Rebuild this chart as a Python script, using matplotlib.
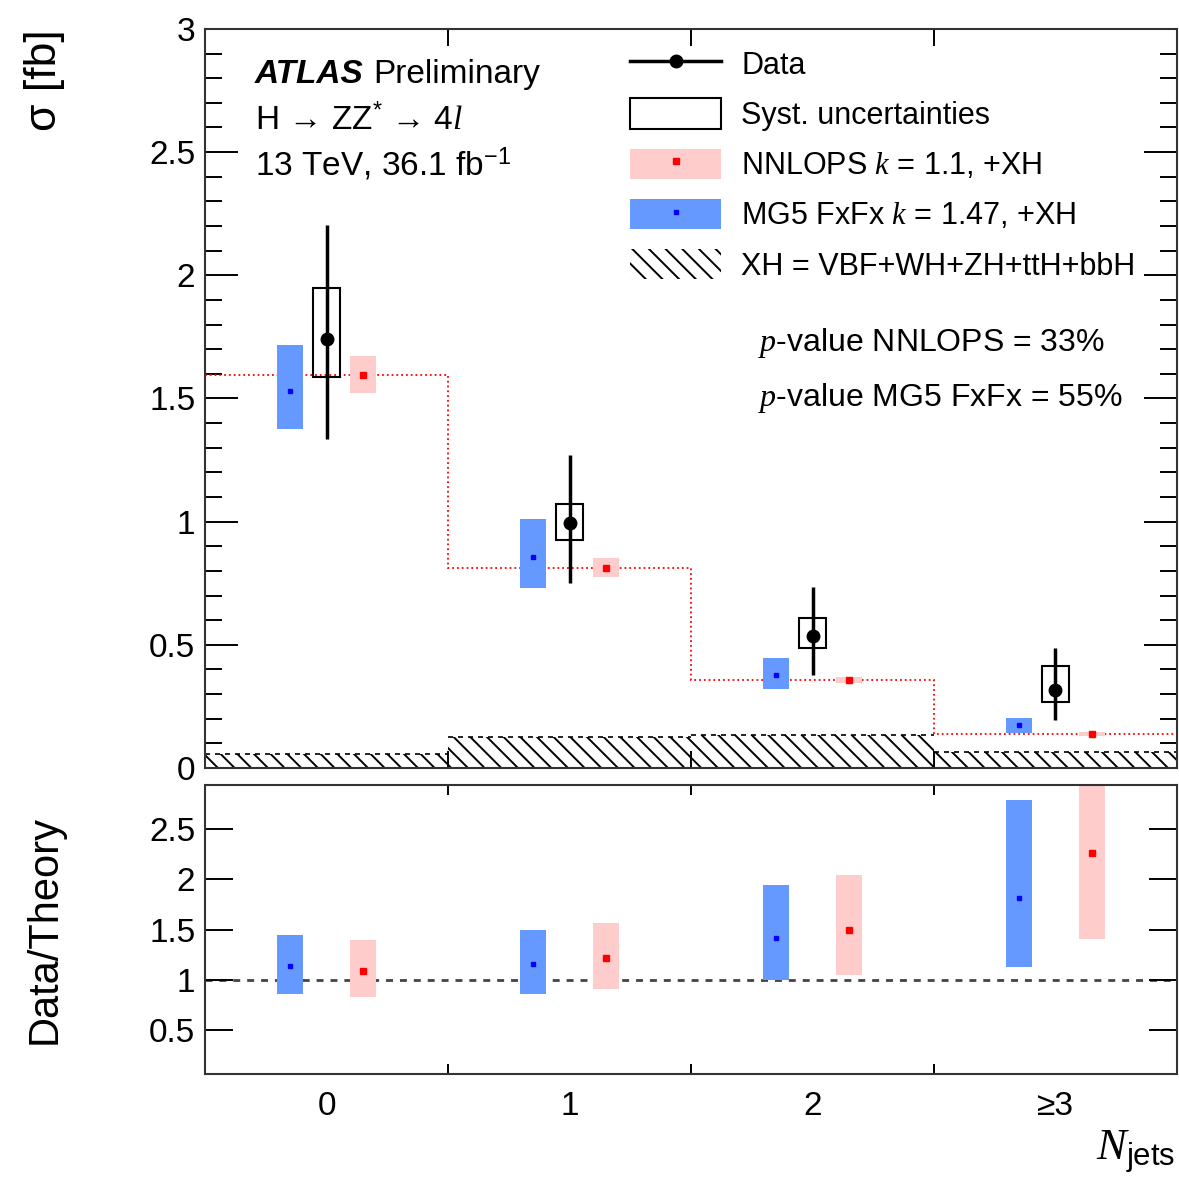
import numpy as np
import matplotlib
matplotlib.use("Agg")
import matplotlib.pyplot as plt
from matplotlib.patches import Patch
from matplotlib.lines import Line2D
from matplotlib.legend_handler import HandlerTuple
from matplotlib.ticker import MultipleLocator, FuncFormatter

plt.rcParams['font.family'] = ['Liberation Sans', 'DejaVu Sans']
plt.rcParams['mathtext.fontset'] = 'custom'
plt.rcParams['mathtext.rm'] = 'Liberation Sans'
plt.rcParams['mathtext.it'] = 'Liberation Serif:italic'
plt.rcParams['hatch.linewidth'] = 1.4
plt.rcParams['hatch.color'] = 'black'

# bins of N_jets
bins = ['0', '1', '2', '≥3']
centers = np.arange(len(bins))
edges = np.arange(len(bins) + 1) - 0.5

# measured cross sections [fb]
data = np.array([1.742, 0.993, 0.536, 0.315])
data_hi = np.array([2.205, 1.271, 0.733, 0.485])
data_lo = np.array([1.335, 0.752, 0.376, 0.196])
syst_hi = np.array([1.948, 1.072, 0.607, 0.413])
syst_lo = np.array([1.589, 0.925, 0.487, 0.268])

# predictions
nnlops = np.array([1.597, 0.813, 0.358, 0.137])
nnlops_hi = np.array([1.673, 0.851, 0.370, 0.145])
nnlops_lo = np.array([1.524, 0.776, 0.346, 0.129])
mg5 = np.array([1.532, 0.857, 0.376, 0.173])
mg5_hi = np.array([1.715, 1.011, 0.448, 0.204])
mg5_lo = np.array([1.376, 0.729, 0.322, 0.143])
xh = np.array([0.057, 0.124, 0.132, 0.064])

# data / theory
r_mg5 = np.array([1.133, 1.160, 1.417, 1.810])
r_mg5_hi = np.array([1.443, 1.493, 1.943, 2.793])
r_mg5_lo = np.array([0.860, 0.860, 0.993, 1.127])
r_nnlops = np.array([1.090, 1.217, 1.493, 2.267])
r_nnlops_hi = np.array([1.393, 1.567, 2.043, 3.100])
r_nnlops_lo = np.array([0.826, 0.910, 1.043, 1.410])

BLUE = '#6699ff'
PINK = '#ffcccc'
off = 0.15
w = 0.11

fig = plt.figure(figsize=(11.79, 11.80), dpi=100)
ax = fig.add_axes([0.1739, 0.3492, 0.8244, 0.6263])
ax2 = fig.add_axes([0.1739, 0.0898, 0.8244, 0.2449])

# ---- top panel ----
ax.bar(centers, xh, width=1.0, facecolor='white', edgecolor='black', linewidth=0,
       hatch='\\\\', zorder=1)
ax.hlines(xh, edges[:-1], edges[1:], colors='black', linestyles=(0, (3, 3)), lw=1.2, zorder=2)
ax.stairs(nnlops, edges, color='red', linestyle=':', lw=1.3, baseline=None, zorder=2)

ax.bar(centers - off, mg5_hi - mg5_lo, bottom=mg5_lo, width=w, color=BLUE, zorder=3)
ax.plot(centers - off, mg5, 's', color='blue', ms=2.5, zorder=4)
ax.bar(centers + off, nnlops_hi - nnlops_lo, bottom=nnlops_lo, width=w, color=PINK, zorder=3)
ax.plot(centers + off, nnlops, 's', color='red', ms=4, zorder=4)

ax.bar(centers, syst_hi - syst_lo, bottom=syst_lo, width=w, fill=False,
       edgecolor='black', lw=1.5, zorder=5)
ax.errorbar(centers, data, yerr=[data - data_lo, data_hi - data], fmt='o', color='black',
            ms=9, elinewidth=2.5, capsize=0, zorder=6)

ax.set_xlim(-0.5, 3.5)
ax.set_ylim(0, 3)
ax.set_xticks(edges[1:-1])
ax.set_xticklabels([])
ax.yaxis.set_major_locator(MultipleLocator(0.5))
ax.yaxis.set_minor_locator(MultipleLocator(0.1))
fmt = FuncFormatter(lambda v, p: f"{v:g}")
ax.yaxis.set_major_formatter(fmt)
ax.tick_params(axis='y', which='major', direction='in', length=24, width=1.4,
               left=True, right=True, labelsize=24, pad=7)
ax.tick_params(axis='y', which='minor', direction='in', length=12, width=1.4,
               left=True, right=True)
ax.tick_params(axis='x', which='major', direction='in', length=12, width=1.4,
               top=True, bottom=True)

fig.text(0.038, 0.975, r"σ [fb]", rotation=90, ha='center', va='top', fontsize=32)

t = ax.text(0.051, 0.938, "ATLAS", transform=ax.transAxes, fontsize=24,
            fontweight='bold', fontstyle='italic', va='center')
ax.annotate("Preliminary", xy=(1, 0.5), xycoords=t, xytext=(7, 0),
            textcoords='offset points', fontsize=24, va='center')
ax.text(0.051, 0.876, r"H → ZZ$^{*}$ → 4$l$", transform=ax.transAxes,
        fontsize=24, va='center')
ax.text(0.051, 0.817, r"13 TeV, 36.1 fb$^{-1}$", transform=ax.transAxes,
        fontsize=24, va='center')
ax.text(0.569, 0.575, r"$p$-value NNLOPS = 33%", transform=ax.transAxes,
        fontsize=23, va='center')
ax.text(0.569, 0.500, r"$p$-value MG5 FxFx = 55%", transform=ax.transAxes,
        fontsize=23, va='center')

handles = [
    Line2D([], [], color='black', lw=2.5, marker='o', ms=9),
    Patch(facecolor='white', edgecolor='black', lw=1.5),
    (Patch(facecolor=PINK, lw=0), Line2D([], [], ls='', marker='s', color='red', ms=4)),
    (Patch(facecolor=BLUE, lw=0), Line2D([], [], ls='', marker='s', color='blue', ms=2.5)),
    Patch(facecolor='white', edgecolor='black', lw=0, hatch='\\\\'),
]
labels = ["Data", "Syst. uncertainties", r"NNLOPS $k$ = 1.1, +XH",
          r"MG5 FxFx $k$ = 1.47, +XH", "XH = VBF+WH+ZH+ttH+bbH"]
ax.legend(handles, labels, loc='upper left', bbox_to_anchor=(0.437, 0.974),
          frameon=False, fontsize=22, borderpad=0, borderaxespad=0,
          handlelength=3.0, handleheight=1.15, handletextpad=0.65, labelspacing=0.58,
          handler_map={tuple: HandlerTuple(ndivide=1)})

# ---- ratio panel ----
ax2.axhline(1.0, color='#444444', lw=2, linestyle=(0, (2.5, 2.5)), zorder=1)
ax2.bar(centers - off, r_mg5_hi - r_mg5_lo, bottom=r_mg5_lo, width=w, color=BLUE, zorder=2)
ax2.plot(centers - off, r_mg5, 's', color='blue', ms=2.5, zorder=3)
ax2.bar(centers + off, r_nnlops_hi - r_nnlops_lo, bottom=r_nnlops_lo, width=w, color=PINK, zorder=2)
ax2.plot(centers + off, r_nnlops, 's', color='red', ms=4, zorder=3)

ax2.set_xlim(-0.5, 3.5)
ax2.set_ylim(0.06, 2.94)
ax2.set_xticks(centers)
ax2.set_xticklabels(bins)
ax2.set_xticks(edges[1:-1], minor=True)
ax2.tick_params(axis='x', which='major', length=0, labelsize=24, pad=12)
ax2.tick_params(axis='x', which='minor', direction='in', length=7, width=1.4,
                top=True, bottom=True)
ax2.set_yticks([0.5, 1, 1.5, 2, 2.5])
ax2.yaxis.set_major_formatter(fmt)
ax2.tick_params(axis='y', which='major', direction='in', length=20, width=1.4,
                left=True, right=True, labelsize=24, pad=7)

fig.text(0.038, 0.212, "Data/Theory", rotation=90, ha='center', va='center', fontsize=30)
fig.text(0.997, 0.024, r"$N_{\mathrm{jets}}$", ha='right', va='center', fontsize=32)

for a in (ax, ax2):
    for s in a.spines.values():
        s.set_linewidth(1.5)
        s.set_color('#333333')

fig.savefig("out.png", dpi=100)
